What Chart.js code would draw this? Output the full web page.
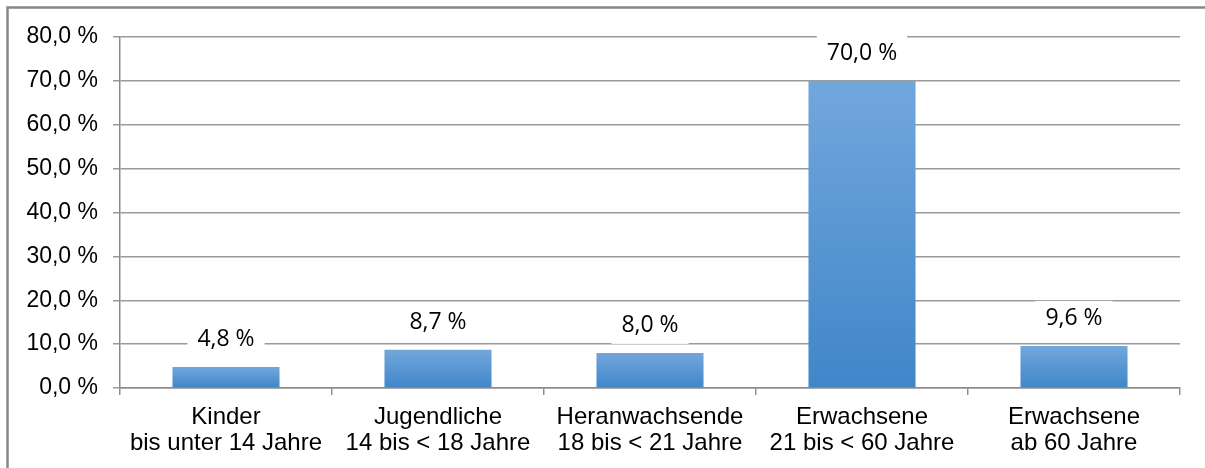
<!DOCTYPE html>
<html><head><meta charset="utf-8">
<script src="https://cdn.jsdelivr.net/npm/chart.js@4.4.1/dist/chart.umd.min.js"></script>
<style>html,body{margin:0;padding:0;background:#fff;}canvas{display:block;}</style>
</head><body>
<canvas id="c" width="1205" height="468"></canvas>
<script>
const categories = [
  ["Kinder", "bis unter 14 Jahre"],
  ["Jugendliche", "14 bis < 18 Jahre"],
  ["Heranwachsende", "18 bis < 21 Jahre"],
  ["Erwachsene", "21 bis < 60 Jahre"],
  ["Erwachsene", "ab 60 Jahre"]
];
const values = [4.8, 8.7, 8.0, 70.0, 9.6];
const yMin = 0, yMax = 80, yStep = 10;

const fmt = v => v.toFixed(1).replace('.', ',') + ' %';

const framePlugin = {
  id: 'frame',
  beforeDraw(chart) {
    const ctx = chart.ctx;
    ctx.save();
    ctx.fillStyle = '#fff';
    ctx.fillRect(0, 0, chart.width, chart.height);
    ctx.strokeStyle = '#878787';
    ctx.lineWidth = 2.5;
    ctx.strokeRect(7.5, 7.5, chart.width + 50, chart.height + 50);
    ctx.restore();
  }
};

const labelPlugin = {
  id: 'barLabels',
  afterDatasetsDraw(chart) {
    const ctx = chart.ctx;
    const meta = chart.getDatasetMeta(0);
    ctx.save();
    ctx.font = '23px "Open Sans"';
    ctx.textAlign = 'center';
    ctx.textBaseline = 'middle';
    meta.data.forEach((el, i) => {
      const txt = fmt(values[i]);
      const w = ctx.measureText(txt).width + 20;
      const cy = el.y - 27;
      ctx.fillStyle = '#fff';
      ctx.fillRect(el.x - w / 2, cy - 18, w, 36);
      ctx.fillStyle = '#000';
      ctx.fillText(txt, el.x, cy);
    });
    ctx.restore();
  }
};

function barColor(context) {
  const chart = context.chart;
  const area = chart.chartArea;
  if (!area || context.type !== 'data') return '#5b9bd5';
  const y = chart.scales.y;
  const top = y.getPixelForValue(values[context.dataIndex]);
  const bot = y.getPixelForValue(0);
  const g = chart.ctx.createLinearGradient(0, top, 0, bot);
  g.addColorStop(0, '#72a7dc');
  g.addColorStop(1, '#4086c9');
  return g;
}

new Chart(document.getElementById('c'), {
  type: 'bar',
  data: {
    labels: categories,
    datasets: [{ data: values, backgroundColor: barColor, borderWidth: 0,
      barPercentage: 0.505, categoryPercentage: 1.0 }]
  },
  options: {
    responsive: false,
    animation: false,
    layout: { padding: { top: 37, right: 25, left: 0, bottom: 0 } },
    plugins: { legend: { display: false }, tooltip: { enabled: false } },
    scales: {
      x: {
        offset: true,
        grid: { offset: true, drawOnChartArea: false, drawTicks: true, tickLength: 7, color: '#909090', lineWidth: 1.5 },
        border: { color: '#8a8a8a', width: 1.5 },
        ticks: { color: '#000', font: { family: '"Liberation Sans", Arial', size: 24, lineHeight: 1.08 }, padding: 9, maxRotation: 0, autoSkip: false },
        afterFit(s) { s.height = 80; }
      },
      y: {
        min: yMin, max: yMax,
        grid: { color: '#9a9a9a', lineWidth: 1.5, tickLength: 7 },
        border: { color: '#8a8a8a', width: 1.5 },
        ticks: { stepSize: yStep, color: '#000', font: { family: '"Liberation Sans", Arial', size: 23 }, padding: 15, callback: v => fmt(v) },
        afterFit(s) { s.width = 120; }
      }
    }
  },
  plugins: [framePlugin, labelPlugin]
});
</script>
</body></html>
